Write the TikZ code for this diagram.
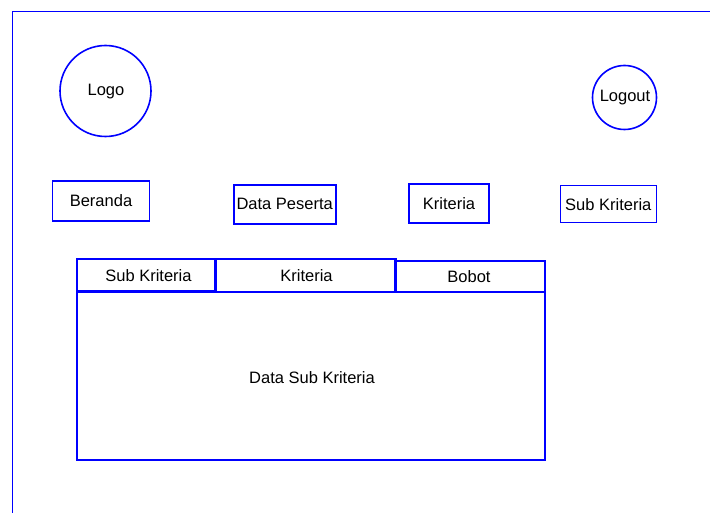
\documentclass[tikz,border=0pt]{standalone}
\usepackage{fontspec}
\setmainfont{Liberation Sans}
\begin{document}
\begin{tikzpicture}[x=1pt,y=-1pt,
  ln/.style={draw=blue,line width=1.6pt},
  box/.style={ln,rectangle,inner sep=0pt,font=\fontsize{16.5}{19}\selectfont},
  circ/.style={ln,circle,inner sep=0pt,font=\fontsize{16.5}{19}\selectfont},
  lbl/.style={inner sep=0pt,font=\fontsize{16.5}{19}\selectfont}]
\useasboundingbox (0,0) rectangle (710,513);
\coordinate (fr1) at (712,11.5);
\coordinate (fr2) at (12.5,11.5);
\coordinate (fr3) at (12.5,515);
\draw[blue,line width=1.8pt] (fr1) -- (fr2) -- (fr3);
% circles
\node[circ,minimum size=91pt] (logo) at (105.5,91) {};
\node[lbl] at (106,92) {Logo};
\node[circ,minimum size=64pt] (logout) at (624.5,97.5) {};
\node[lbl] at (625,97.5) {Logout};
% menu boxes
\node[box,minimum width=97pt,minimum height=40pt] (beranda) at (101,201) {Beranda};
\node[box,minimum width=102pt,minimum height=39pt] (peserta) at (284.7,204.4) {Data Peserta};
\node[box,minimum width=80pt,minimum height=38.5pt] (krit) at (449,203.5) {Kriteria};
\node[box,minimum width=96pt,minimum height=37pt] (subkrit) at (608.3,204.2) {Sub Kriteria};
% table
\node[box,minimum width=468pt,minimum height=168pt] (data) at (311,376) {};
\node[lbl] at (312,378) {Data Sub Kriteria};
\node[box,minimum width=138pt,minimum height=32pt] (t1) at (146.2,275.2) {};
\node[lbl] at (148.5,276) {Sub Kriteria};
\node[box,minimum width=180pt,minimum height=33pt] (t2) at (306,275.5) {};
\node[lbl] at (306.5,276) {Kriteria};
\node[box,minimum width=150pt,minimum height=31pt] (t3) at (470,276.5) {};
\node[lbl] at (469,277) {Bobot};
\end{tikzpicture}
\end{document}
